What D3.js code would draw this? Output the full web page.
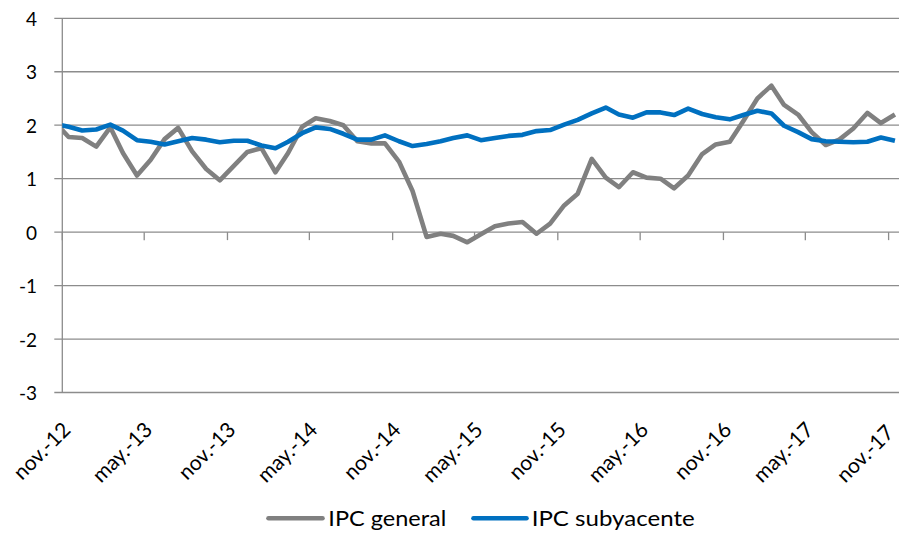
<!DOCTYPE html>
<html>
<head>
<meta charset="utf-8">
<script src="https://cdn.jsdelivr.net/npm/d3@7"></script>
<style>
  html, body { margin: 0; padding: 0; background: #ffffff; }
  svg { display: block; }
  text { font-family: Lato, "Open Sans", sans-serif; fill: #000; }
</style>
</head>
<body>
<div id="chart"></div>
<script>
// ---- data ----
const categories = [
  "2012-10","2012-11","2012-12",
  "2013-01","2013-02","2013-03","2013-04","2013-05","2013-06","2013-07","2013-08","2013-09","2013-10","2013-11","2013-12",
  "2014-01","2014-02","2014-03","2014-04","2014-05","2014-06","2014-07","2014-08","2014-09","2014-10","2014-11","2014-12",
  "2015-01","2015-02","2015-03","2015-04","2015-05","2015-06","2015-07","2015-08","2015-09","2015-10","2015-11","2015-12",
  "2016-01","2016-02","2016-03","2016-04","2016-05","2016-06","2016-07","2016-08","2016-09","2016-10","2016-11","2016-12",
  "2017-01","2017-02","2017-03","2017-04","2017-05","2017-06","2017-07","2017-08","2017-09","2017-10","2017-11"
];
const ipcGeneral = [
  2.06, 1.78, 1.76,
  1.60, 1.96, 1.48, 1.06, 1.35, 1.74, 1.95, 1.51, 1.18, 0.97, 1.24, 1.50,
  1.57, 1.12, 1.48, 1.97, 2.13, 2.08, 2.00, 1.70, 1.66, 1.66, 1.32, 0.77,
  -0.09, -0.03, -0.07, -0.19, -0.04, 0.11, 0.16, 0.19, -0.03, 0.16, 0.50, 0.72,
  1.37, 1.02, 0.84, 1.12, 1.02, 1.00, 0.82, 1.06, 1.46, 1.64, 1.69, 2.08,
  2.50, 2.74, 2.38, 2.20, 1.87, 1.63, 1.73, 1.94, 2.23, 2.04, 2.20
];
const ipcSubyacente = [
  2.03, 1.97, 1.90,
  1.92, 2.01, 1.90, 1.72, 1.69, 1.64, 1.70, 1.76, 1.73, 1.68, 1.71, 1.71,
  1.62, 1.57, 1.69, 1.85, 1.96, 1.93, 1.84, 1.73, 1.73, 1.81, 1.70, 1.61,
  1.65, 1.70, 1.76, 1.81, 1.72, 1.76, 1.80, 1.82, 1.89, 1.91, 2.01, 2.10,
  2.22, 2.33, 2.20, 2.14, 2.24, 2.24, 2.19, 2.31, 2.21, 2.15, 2.11, 2.19,
  2.27, 2.22, 1.99, 1.87, 1.74, 1.70, 1.69, 1.68, 1.69, 1.77, 1.71
];
const tickLabels = ["nov.-12","may.-13","nov.-13","may.-14","nov.-14","may.-15","nov.-15","may.-16","nov.-16","may.-17","nov.-17"];
const tickMonths = ["2012-11","2013-05","2013-11","2014-05","2014-11","2015-05","2015-11","2016-05","2016-11","2017-05","2017-11"];
const yTicks = [-3, -2, -1, 0, 1, 2, 3, 4];
const seriesNames = ["IPC general", "IPC subyacente"];

// ---- layout ----
const W = 899, H = 533;
const plotLeft = 62.3, plotTop = 18.3, plotBottom = 392.5;
const gridRight = 905;
const colors = ["#808080", "#0070C0"];
const gridColor = "#8c8c8c";

const monthStart = s => { const [yy, mm] = s.split("-").map(Number); return new Date(yy, mm - 1, 1); };
const monthMid = s => { const [yy, mm] = s.split("-").map(Number); return new Date(yy, mm - 1, 15); };

const x = d3.scaleTime()
  .domain([monthStart("2012-11"), monthStart("2017-11")])
  .range([plotLeft, 888.6]);
const y = d3.scaleLinear().domain([-3, 4]).range([plotBottom, plotTop]);

const svg = d3.select("#chart").append("svg").attr("width", W).attr("height", H);

svg.append("defs").append("clipPath").attr("id", "plotclip")
  .append("rect").attr("x", plotLeft).attr("y", 0).attr("width", gridRight - plotLeft).attr("height", H);

// gridlines
svg.append("g").selectAll("line").data(yTicks).join("line")
  .attr("x1", plotLeft - 8).attr("x2", gridRight)
  .attr("y1", d => y(d)).attr("y2", d => y(d))
  .attr("stroke", gridColor).attr("stroke-width", 1.3);

// y axis line
svg.append("line").attr("x1", plotLeft).attr("x2", plotLeft)
  .attr("y1", y(4)).attr("y2", y(-3))
  .attr("stroke", gridColor).attr("stroke-width", 1.3);

// y labels
svg.append("g").selectAll("text").data(yTicks).join("text")
  .attr("x", 37).attr("y", d => y(d))
  .attr("text-anchor", "end").attr("dominant-baseline", "central")
  .style("font-size", "19px")
  .text(d => d);

// x ticks on the zero line
svg.append("g").selectAll("line").data(tickMonths).join("line")
  .attr("x1", d => x(monthStart(d))).attr("x2", d => x(monthStart(d)))
  .attr("y1", y(0)).attr("y2", y(0) + 8)
  .attr("stroke", gridColor).attr("stroke-width", 1.3);

// x labels
const xLab = svg.append("g").selectAll("text").data(tickMonths).join("text")
  .attr("transform", d => `translate(${x(monthStart(d)) + 3.5},425) rotate(-45)`)
  .attr("text-anchor", "end").attr("dominant-baseline", "central")
  .style("font-size", "21px")
  .text((d, i) => tickLabels[i]);
// keep labels inside the picture's right edge
xLab.each(function(d) {
  const r = this.getBoundingClientRect();
  const over = r.right - (W - 1);
  if (over > 0) {
    d3.select(this).attr("transform", `translate(${x(monthStart(d)) + 3.5 - over},${425 + over}) rotate(-45)`);
  }
});

// lines
const line = d3.line()
  .x(d => x(monthMid(d.c)))
  .y(d => y(d.v));
const series = [ipcGeneral, ipcSubyacente];
const gLines = svg.append("g").attr("clip-path", "url(#plotclip)");
series.forEach((vals, k) => {
  gLines.append("path")
    .datum(categories.map((c, i) => ({ c, v: vals[i] })))
    .attr("d", line)
    .attr("fill", "none")
    .attr("stroke", colors[k])
    .attr("stroke-width", 4.6)
    .attr("stroke-linejoin", "round")
    .attr("stroke-linecap", "butt");
});

// legend
const legendItems = [
  { x1: 268.5, x2: 322.5, tx: 328.3, w: 118 },
  { x1: 473.5, x2: 526.5, tx: 531.7, w: 163 }
];
const lg = svg.append("g");
legendItems.forEach((it, k) => {
  lg.append("line").attr("x1", it.x1).attr("x2", it.x2).attr("y1", 518.3).attr("y2", 518.3)
    .attr("stroke", colors[k]).attr("stroke-width", 4.6).attr("stroke-linecap", "round");
  lg.append("text").attr("x", it.tx).attr("y", 525.7)
    .style("font-size", "22px")
    .attr("textLength", it.w).attr("lengthAdjust", "spacingAndGlyphs")
    .text(seriesNames[k]);
});
</script>
</body>
</html>
